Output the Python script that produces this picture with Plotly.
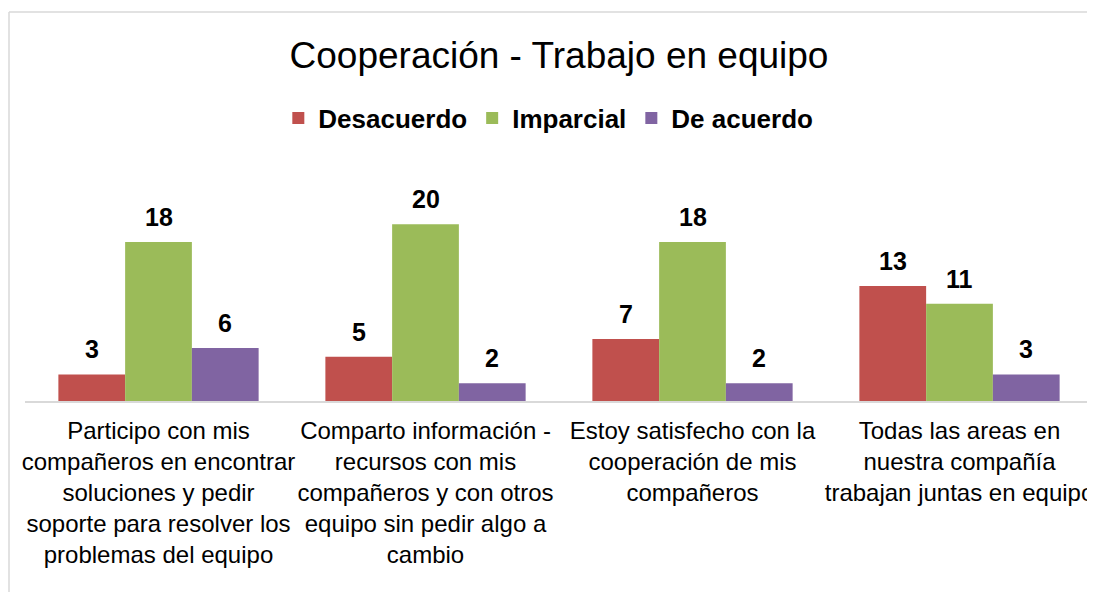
import plotly.graph_objects as go

# === Data
categories = [
    "Participo con mis<br>compañeros en encontrar<br>soluciones y pedir<br>soporte para resolver los<br>problemas del equipo",
    "Comparto información -<br>recursos con mis<br>compañeros y con otros<br>equipo sin pedir algo a<br>cambio",
    "Estoy satisfecho con la<br>cooperación de mis<br>compañeros",
    "Todas las areas en<br>nuestra compañía<br>trabajan juntas en equipo",
]
series_names = ["Desacuerdo", "Imparcial", "De acuerdo"]
desacuerdo = [3, 5, 7, 13]
imparcial = [18, 20, 18, 11]
de_acuerdo = [6, 2, 2, 3]
colors = ["#C0504D", "#9BBB59", "#8064A2"]

# === Layout geometry (page body adds an 8px margin, so the figure is a bit smaller)
W, H = 1087, 584
M_L, M_R, M_T, M_B = 17, 2, 172, 191
BARGAP = 0.25
FONT = "Liberation Sans, Arial, sans-serif"

fig = go.Figure()
x_idx = list(range(len(categories)))
for name, vals, col in zip(series_names, [desacuerdo, imparcial, de_acuerdo], colors):
    fig.add_trace(go.Bar(
        x=x_idx, y=vals, name=name,
        marker=dict(color=col, line=dict(width=0)),
    ))

# === Data labels (annotations centred over each bar)
cat_px = (W - M_L - M_R) / len(categories)
bar_px = cat_px * (1 - BARGAP) / len(series_names)
for s, vals in enumerate([desacuerdo, imparcial, de_acuerdo]):
    shift = (s - (len(series_names) - 1) / 2) * bar_px
    for i, v in enumerate(vals):
        fig.add_annotation(
            x=i, y=v, text=f"<b>{v}</b>", showarrow=False,
            xanchor="center", yanchor="bottom", xshift=shift, yshift=9,
            font=dict(family=FONT, size=25, color="#000000"),
        )

# === Outer chart border: only the left and top edges are inside the crop
pw, ph = W - M_L - M_R, H - M_T - M_B
bx0 = (1 - M_L) / pw
bx1 = (W + 20 - M_L) / pw
by0 = ((H - M_B) - (H + 20)) / ph
by1 = ((H - M_B) - 4) / ph
border = dict(color="#D9D9D9", width=1.5)
fig.add_shape(type="line", xref="paper", yref="paper", layer="below",
              x0=bx0, x1=bx0, y0=by0, y1=by1, line=border)
fig.add_shape(type="line", xref="paper", yref="paper", layer="below",
              x0=bx0, x1=bx1, y0=by1, y1=by1, line=border)

fig.update_layout(
    width=W, height=H,
    margin=dict(l=M_L, r=M_R, t=M_T, b=M_B),
    paper_bgcolor="white", plot_bgcolor="white",
    barmode="group", bargap=BARGAP, bargroupgap=0,
    title=dict(
        text="Cooperación - Trabajo en equipo",
        x=0.5, xanchor="center", xref="paper",
        y=1 - 47 / H, yanchor="middle",
        font=dict(family=FONT, size=37, color="#000000"),
    ),
    legend=dict(
        orientation="h", x=0.49, xanchor="center", xref="paper",
        y=1 - 110 / H, yanchor="middle", yref="container",
        font=dict(family=FONT, size=26, color="#000000", weight="bold"),
        itemclick=False,
    ),
    xaxis=dict(
        tickmode="array", tickvals=x_idx, ticktext=categories,
        range=[-0.5, len(categories) - 0.5],
        showline=True, linecolor="#D9D9D9", linewidth=1.5,
        showgrid=False, ticks="", zeroline=False,
        tickfont=dict(family=FONT, size=24, color="#000000"),
        tickangle=0, ticklabelstandoff=7,
    ),
    yaxis=dict(range=[0, 25], visible=False, showgrid=False, zeroline=False),
    showlegend=True,
)

fig.write_html("out.html")
